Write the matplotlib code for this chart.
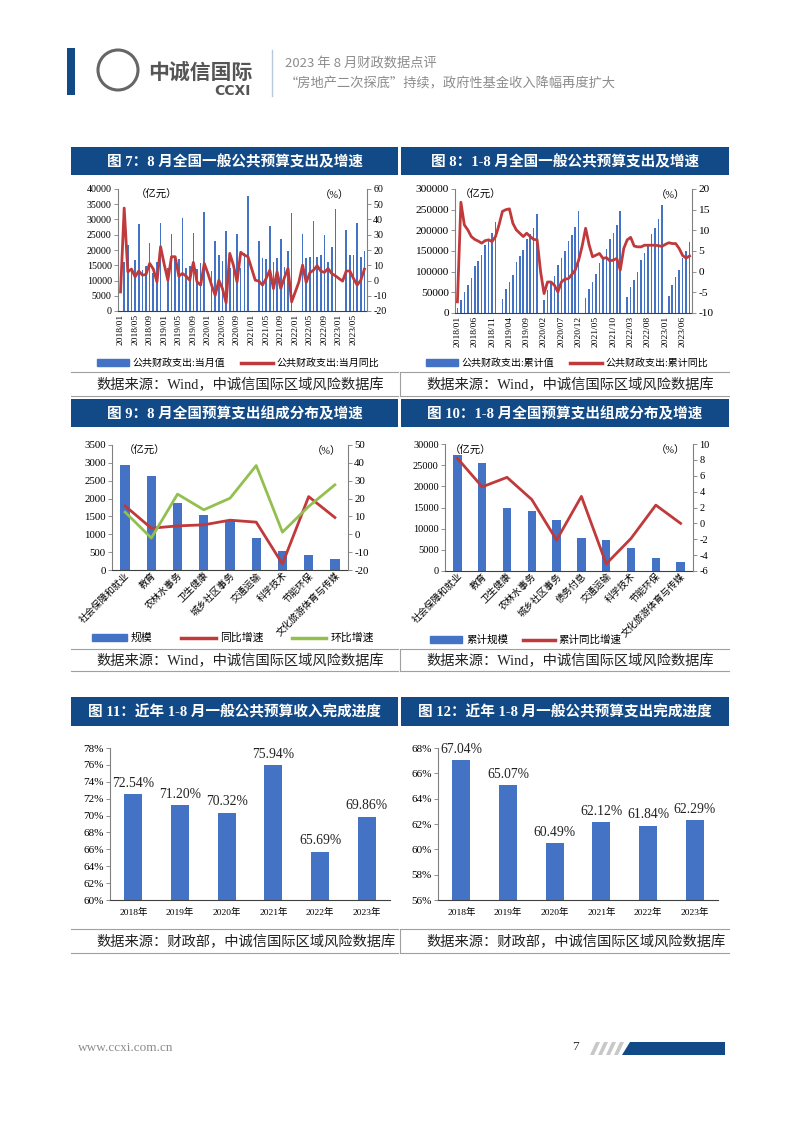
import numpy as np
import matplotlib
matplotlib.use('Agg')
import matplotlib.pyplot as plt
from matplotlib.patches import Rectangle, Polygon, Ellipse
from matplotlib.lines import Line2D

plt.rcParams['font.family'] = ['Liberation Serif', 'Noto Sans CJK SC', 'DejaVu Sans']
plt.rcParams['axes.unicode_minus'] = False

nan = np.nan

# ---- data: chart 7, monthly spending (亿元) and yoy (%), 2018/01 - 2023/08
monthly_spend = [
    nan, 16100, 21700, 13000, 16700, 28600, 13600, 14700, 22400, 12500, 16100, 28900,
    nan, 14000, 25200, 17500, 17200, 30500, 14200, 14900, 25600, 13800, 15800, 32400,
    nan, 13000, 22900, 18200, 16500, 26200, 14000, 14500, 25100, 14000, 19000, 37700,
    nan, nan, 23000, 17300, 17000, 28000, 16200, 17300, 23500, 14500, 19700, 32200,
    nan, nan, 25300, 17300, 17800, 29600, 17800, 18200, 25000, 16200, 20900, 33300,
    nan, nan, 26700, 18400, 18200, 28900, 17600, 19800]
monthly_yoy = [
    -7.5, 47.5, 5.7, 7.5, 2.4, 6.2, 3.5, 4.0, 11.2, 7.5, -0.9, 22.2,
    10.5, 0.2, 15.6, 15.6, 2.9, 4.6, 2.9, 0.2, 11.9, -0.9, -3.0, 11.2,
    4.6, -3.0, -9.7, 0.2, -5.3, -14.7, 17.8, 10.1, -0.9, 18.5, 16.7, 15.6,
    7.9, 0.2, -0.4, -3.0, 1.3, 6.8, -5.3, 5.7, -5.3, 1.8, 7.9, -14.0,
    -7.5, -0.9, 10.1, -1.3, 5.1, 6.8, 9.7, 6.2, 5.3, 7.9, 4.6, 3.1,
    1.3, -0.4, 6.2, 6.2, 1.3, -3.0, 0.2, 7.5]

# ---- chart 8, cumulative spending (亿元) and cumulative yoy (%)
cum_spend = [
    12000, 31000, 52000, 68000, 84000, 113000, 127000, 141000, 164000, 177000, 193000, 221000,
    nan, 34000, 57000, 74000, 92000, 123000, 137000, 152000, 180000, 191000, 206000, 238900,
    nan, 32000, 55000, 72000, 89000, 116000, 132000, 149000, 175000, 189000, 208000, 245600,
    nan, 37000, 59000, 76000, 94000, 122000, 136000, 155000, 179000, 193000, 213000, 246300,
    nan, 39000, 63000, 81000, 99000, 129000, 146000, 164000, 190000, 206000, 227000, 260600,
    nan, 41000, 67000, 86000, 105000, 134000, 151000, 172000]
cum_yoy = [
    -7.3, 16.8, 11.3, 10.1, 8.5, 7.8, 7.4, 6.9, 7.5, 7.7, 7.3, 8.5,
    11.3, 14.6, 15.0, 15.2, 11.7, 10.1, 9.3, 8.5, 9.3, 8.5, 7.8, 7.7,
    0.0, -5.3, -2.5, -2.5, -3.3, -4.9, -2.5, -1.8, -1.7, -0.7, 0.4, 2.8,
    6.2, 10.5, 6.5, 3.6, 4.0, 4.4, 3.2, 3.4, 2.6, 2.8, 3.2, 0.4,
    5.6, 7.7, 8.3, 6.2, 6.0, 6.0, 6.4, 6.4, 6.4, 6.4, 6.3, 6.1,
    6.6, 7.0, 6.8, 6.8, 5.6, 3.9, 3.3, 3.8]

# ---- chart 9, August spending by category
cat9 = ['社会保障和就业', '教育', '农林水事务', '卫生健康', '城乡社区事务',
        '交通运输', '科学技术', '节能环保', '文化旅游体育与传媒']
scale9 = [2940, 2645, 1865, 1545, 1380, 895, 540, 410, 320]
yoy9 = [15.9, 3.4, 4.7, 5.3, 7.9, 6.8, -16.6, 21.1, 9.4]
mom9 = [12.4, -2.1, 22.5, 13.7, 20.2, 38.5, 1.2, 15.6, 27.7]

# ---- chart 10, Jan-Aug spending by category
cat10 = ['社会保障和就业', '教育', '卫生健康', '农林水事务', '城乡社区事务',
         '债务付息', '交通运输', '科学技术', '节能环保', '文化旅游体育与传媒']
scale10 = [27300, 25400, 14800, 14200, 12000, 7700, 7300, 5500, 3100, 2100]
yoy10 = [8.2, 4.6, 5.8, 3.0, -2.1, 3.4, -5.1, -1.9, 2.3, 0.0]

# ---- charts 11 / 12, completion progress (%)
years = ['2018年', '2019年', '2020年', '2021年', '2022年', '2023年']
revenue_progress = [72.54, 71.20, 70.32, 75.94, 65.69, 69.86]
spend_progress = [67.04, 65.07, 60.49, 62.12, 61.84, 62.29]

W, H = 802, 1133
BLUE = '#4472C4'
RED = '#C0393B'
GREEN = '#92C050'
NAVY = '#124A87'

fig = plt.figure(figsize=(W / 100, H / 100), dpi=100)
fig.patch.set_facecolor('white')


def box(x, y, w, h):
    return [x / W, 1 - (y + h) / H, w / W, h / H]


def ftxt(x, y, s, **kw):
    fig.text(x / W, 1 - y / H, s, **kw)


def frect(x, y, w, h, color):
    fig.add_artist(Rectangle((x / W, 1 - (y + h) / H), w / W, h / H,
                             transform=fig.transFigure, color=color, lw=0))


def fline(x0, x1, y0, y1, color, lw):
    fig.add_artist(Line2D([x0 / W, x1 / W], [1 - y0 / H, 1 - y1 / H],
                          transform=fig.transFigure, color=color, lw=lw))


def style_axes(ax, right=None, size=7):
    for s in ['top', 'right']:
        ax.spines[s].set_visible(False)
    ax.spines['left'].set_color('#808080')
    ax.spines['bottom'].set_color('#404040')
    ax.tick_params(axis='y', direction='out', length=3, width=0.6, color='#808080',
                   labelsize=size, pad=1.5)
    ax.tick_params(axis='x', length=0, labelsize=6.8, pad=2)
    ax.set_facecolor('none')
    if right is not None:
        for s in ['top', 'left', 'bottom']:
            right.spines[s].set_visible(False)
        right.spines['right'].set_color('#808080')
        right.tick_params(axis='y', direction='out', length=3, width=0.6, color='#808080',
                          labelsize=size, pad=1.5)


# ---------------- header ----------------
frect(67, 48, 8, 47, NAVY)
fig.add_artist(Ellipse((118 / W, 1 - 70 / H), 40 / W, 40 / H, transform=fig.transFigure,
                       fill=False, ec='#666666', lw=2.2))
ftxt(148, 72, '中诚信国际', fontsize=15, fontweight='bold', color='#555555',
     family='Noto Sans CJK SC', va='center')
ftxt(214, 91, 'CCXI', fontsize=10, fontweight='bold', color='#555555',
     family='DejaVu Sans', va='center')
fline(272, 272, 50, 96, '#B8C8DC', 1)
ftxt(285, 63, '2023 年 8 月财政数据点评', fontsize=9.5, color='#8C8C8C',
     family='Noto Sans CJK SC', va='center')
ftxt(285, 84, '“房地产二次探底”持续，政府性基金收入降幅再度扩大', fontsize=9.5,
     color='#8C8C8C', family='Noto Sans CJK SC', va='center')

# ---------------- panel frames ----------------
panels_x = [(71, 398), (401, 729)]
titles = [('图 7：8 月全国一般公共预算支出及增速', '图 8：1-8 月全国一般公共预算支出及增速'),
          ('图 9：8 月全国预算支出组成分布及增速', '图 10：1-8 月全国预算支出组成分布及增速'),
          ('图 11：近年 1-8 月一般公共预算收入完成进度', '图 12：近年 1-8 月一般公共预算支出完成进度')]
title_y = [(147, 28), (399, 28), (697, 29)]
src_y = [(372, 396), (649, 671), (929, 953)]
sources = ['数据来源：Wind，中诚信国际区域风险数据库',
           '数据来源：Wind，中诚信国际区域风险数据库',
           '数据来源：财政部，中诚信国际区域风险数据库']
for r in range(3):
    ty, th = title_y[r]
    for c, (x0, x1) in enumerate(panels_x):
        frect(x0, ty, x1 - x0, th, NAVY)
        ftxt((x0 + x1) / 2, ty + th / 2 + 1, titles[r][c], color='white', fontsize=10.5,
             fontweight='bold', ha='center', va='center')
        y0, y1 = src_y[r]
        fline(x0, x1, y0, y0, '#A0A0A0', 0.8)
        fline(x0, x1, y1, y1, '#A0A0A0', 0.8)
        ftxt(x0 + 25, (y0 + y1) / 2 + 1, sources[r], fontsize=10.3, color='#222222',
             va='center', ha='left')
    fline(399.5, 399.5, src_y[r][0], src_y[r][1], '#A0A0A0', 0.8)

# ---------------- chart 7 ----------------
x = np.arange(len(monthly_spend))
labels = [f'{2018 + i // 12}/{i % 12 + 1:02d}' for i in x]
ax = fig.add_axes(box(118, 189, 249, 122))
ax.bar(x, monthly_spend, width=0.45, color=BLUE)
ax.set_ylim(0, 40000)
ax.set_yticks(np.arange(0, 40001, 5000))
ax.set_xlim(-0.7, len(x) - 0.3)
ax.set_xticks(x[::4])
ax.set_xticklabels(labels[::4], rotation=90)
ax2 = ax.twinx()
ax2.plot(x, monthly_yoy, color=RED, lw=2.0)
ax2.set_ylim(-20, 60)
ax2.set_yticks(np.arange(-20, 61, 10))
style_axes(ax, ax2, 7.2)
ax.text(0.07, 0.95, '（亿元）', transform=ax.transAxes, fontsize=7.5, va='center')
ax.text(0.93, 0.95, '（%）', transform=ax.transAxes, fontsize=7.5, va='center', ha='right')
h1 = Rectangle((0, 0), 1, 1, color=BLUE)
h2 = Line2D([], [], color=RED, lw=2.5)
ax.legend([h1, h2], ['公共财政支出:当月值', '公共财政支出:当月同比'], ncol=2,
          loc='center', bbox_to_anchor=(238 / W, 1 - 363 / H), bbox_transform=fig.transFigure,
          frameon=False, fontsize=7.2, handlelength=3.2, handleheight=0.6, columnspacing=1.5,
          handletextpad=0.4)

# ---------------- chart 8 ----------------
ax = fig.add_axes(box(455, 189, 237, 124))
ax.bar(x, cum_spend, width=0.45, color=BLUE)
ax.set_ylim(0, 300000)
ax.set_yticks(np.arange(0, 300001, 50000))
ax.set_xlim(-0.7, len(x) - 0.3)
ax.set_xticks(x[::5])
ax.set_xticklabels(labels[::5], rotation=90)
ax2 = ax.twinx()
ax2.plot(x, cum_yoy, color=RED, lw=2.0)
ax2.set_ylim(-10, 20)
ax2.set_yticks(np.arange(-10, 21, 5))
style_axes(ax, ax2, 8.2)
ax.text(0.02, 0.95, '（亿元）', transform=ax.transAxes, fontsize=7.5, va='center')
ax.text(0.97, 0.95, '（%）', transform=ax.transAxes, fontsize=7.5, va='center', ha='right')
ax.legend([h1, h2], ['公共财政支出:累计值', '公共财政支出:累计同比'], ncol=2,
          loc='center', bbox_to_anchor=(567 / W, 1 - 363 / H), bbox_transform=fig.transFigure,
          frameon=False, fontsize=7.2, handlelength=3.2, handleheight=0.6, columnspacing=1.5,
          handletextpad=0.4)

# ---------------- chart 9 ----------------
x9 = np.arange(len(cat9))
ax = fig.add_axes(box(112, 445, 236, 125))
ax.bar(x9, scale9, width=0.36, color=BLUE)
ax.set_ylim(0, 3500)
ax.set_yticks(np.arange(0, 3501, 500))
ax.set_xlim(-0.5, len(cat9) - 0.5)
ax.set_xticks(x9)
ax.set_xticklabels(cat9, rotation=45, ha='right', rotation_mode='anchor', fontsize=5.8)
ax2 = ax.twinx()
ax2.plot(x9, yoy9, color=RED, lw=2.0)
ax2.plot(x9, mom9, color=GREEN, lw=2.0)
ax2.set_ylim(-20, 50)
ax2.set_yticks(np.arange(-20, 51, 10))
style_axes(ax, ax2, 7.8)
ax.tick_params(axis='x', pad=0.5)
ax.text(0.05, 0.95, '（亿元）', transform=ax.transAxes, fontsize=7.5, va='center')
ax.text(0.97, 0.95, '（%）', transform=ax.transAxes, fontsize=7.5, va='center', ha='right')
h3 = Line2D([], [], color=GREEN, lw=2.5)
ax.legend([h1, h2, h3], ['规模', '同比增速', '环比增速'], ncol=3,
          loc='center', bbox_to_anchor=(233 / W, 1 - 638 / H), bbox_transform=fig.transFigure,
          frameon=False, fontsize=7.8, handlelength=3.2, handleheight=0.6, columnspacing=2.6,
          handletextpad=0.4)

# ---------------- chart 10 ----------------
x10 = np.arange(len(cat10))
ax = fig.add_axes(box(445, 444, 248, 127))
ax.bar(x10, scale10, width=0.34, color=BLUE)
ax.set_ylim(0, 30000)
ax.set_yticks(np.arange(0, 30001, 5000))
ax.set_xlim(-0.5, len(cat10) - 0.5)
ax.set_xticks(x10)
ax.set_xticklabels(cat10, rotation=45, ha='right', rotation_mode='anchor', fontsize=5.0)
ax2 = ax.twinx()
ax2.plot(x10, yoy10, color=RED, lw=2.0)
ax2.set_ylim(-6, 10)
ax2.set_yticks(np.arange(-6, 11, 2))
style_axes(ax, ax2, 7.5)
ax.tick_params(axis='x', pad=0.3)
ax.text(0.02, 0.95, '（亿元）', transform=ax.transAxes, fontsize=7.5, va='center')
ax.text(0.97, 0.95, '（%）', transform=ax.transAxes, fontsize=7.5, va='center', ha='right')
ax.legend([h1, h2], ['累计规模', '累计同比增速'], ncol=2,
          loc='center', bbox_to_anchor=(526 / W, 1 - 640 / H), bbox_transform=fig.transFigure,
          frameon=False, fontsize=7.6, handlelength=3.0, handleheight=0.6, columnspacing=1.4,
          handletextpad=0.4)


# ---------------- charts 11 / 12 ----------------
def progress_chart(rect, values, ylo, yhi):
    ax = fig.add_axes(box(*rect))
    xs = np.arange(len(years))
    ax.bar(xs, values, width=0.38, color=BLUE)
    ax.set_ylim(ylo, yhi)
    ticks = np.arange(ylo, yhi + 0.1, 2)
    ax.set_yticks(ticks)
    ax.set_yticklabels([f'{v:.0f}%' for v in ticks])
    ax.set_xlim(-0.5, len(years) - 0.5)
    ax.set_xticks(xs)
    ax.set_xticklabels(years)
    style_axes(ax, None, 8)
    ax.tick_params(axis='x', length=0, pad=6, labelsize=6.8)
    for xi, v in zip(xs, values):
        ax.text(xi, v + (yhi - ylo) * 0.03, f'{v:.2f}%', ha='center', va='bottom',
                fontsize=9.8, color='#222222')
    return ax


progress_chart((110, 748, 280, 152), revenue_progress, 60, 78)
progress_chart((438, 748, 280, 152), spend_progress, 56, 68)

# ---------------- footer ----------------
ftxt(78, 1048, 'www.ccxi.com.cn', fontsize=9.5, color='#8C8C8C', va='center')
ftxt(572, 1047, '7', fontsize=9.5, color='#333333', va='center')
for i in range(4):
    xs0 = 590 + i * 8
    fig.add_artist(Polygon([[xs0 / W, 1 - 1055 / H], [(xs0 + 4) / W, 1 - 1055 / H],
                            [(xs0 + 10) / W, 1 - 1042 / H], [(xs0 + 6) / W, 1 - 1042 / H]],
                           closed=True, transform=fig.transFigure, color='#C8C8C8', lw=0))
fig.add_artist(Polygon([[622 / W, 1 - 1055 / H], [725 / W, 1 - 1055 / H],
                        [725 / W, 1 - 1042 / H], [630 / W, 1 - 1042 / H]],
                       closed=True, transform=fig.transFigure, color=NAVY, lw=0))

fig.savefig('out.png', dpi=100, facecolor='white')
